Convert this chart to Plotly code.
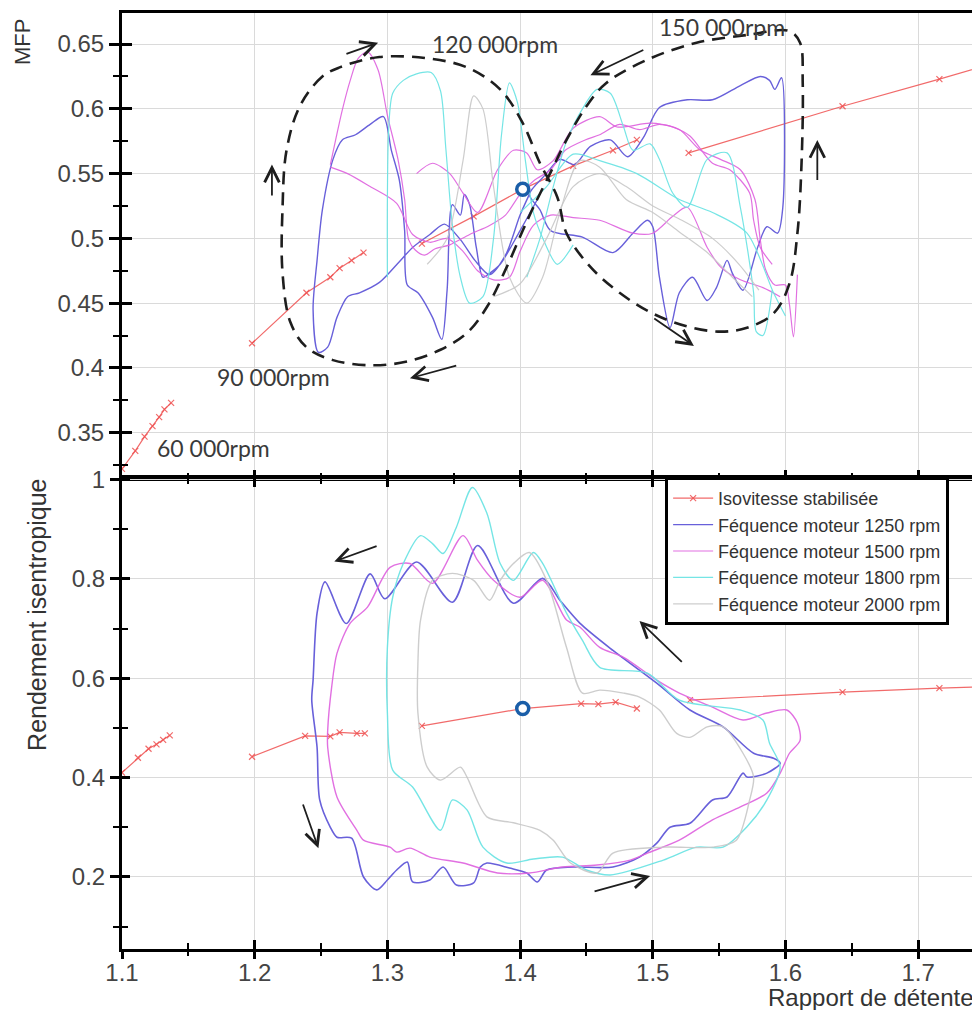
import plotly.graph_objects as go

# ---------------- axis ranges / ticks ----------------
x_range = [1.1, 1.7466]
mfp_range = [0.315, 0.674]
eff_range = [0.055, 1.003]

# ---------------- Isovitesse stabilisée (red) ----------------
iso_top_x = [1.100, 1.110, 1.117, 1.123, 1.128, 1.132, 1.137, None,
             1.198, 1.239, 1.257, 1.264, 1.273, 1.282, None,
             1.326, 1.365, 1.402, 1.440, 1.470, 1.488, None,
             1.527, 1.643, 1.716, 1.760]
iso_top_y = [0.322, 0.336, 0.347, 0.355, 0.362, 0.368, 0.373, None,
             0.419, 0.458, 0.470, 0.477, 0.483, 0.489, None,
             0.496, 0.517, 0.538, 0.556, 0.568, 0.576, None,
             0.566, 0.602, 0.623, 0.636]
iso_bot_x = [1.100, 1.112, 1.120, 1.126, 1.131, 1.136, None,
             1.198, 1.238, 1.257, 1.264, 1.277, 1.283, None,
             1.326, 1.402, 1.446, 1.459, 1.472, 1.488, None,
             1.528, 1.643, 1.716, 1.760]
iso_bot_y = [0.410, 0.440, 0.458, 0.467, 0.476, 0.485, None,
             0.442, 0.484, 0.483, 0.491, 0.489, 0.489, None,
             0.504, 0.539, 0.549, 0.548, 0.552, 0.539, None,
             0.556, 0.572, 0.580, 0.584]
point_x = [1.402]
point_top_y = [0.538]
point_bot_y = [0.539]

# ---------------- MFP (top) : 1250 rpm ----------------
b1250_top_a_x = [1.413, 1.400, 1.385, 1.377, 1.372, 1.367, 1.362, 1.358, 1.355, 1.349, 1.345, 1.341,
                 1.334, 1.323, 1.315, 1.313, 1.309, 1.303, 1.297, 1.287, 1.276, 1.266, 1.259, 1.251,
                 1.247, 1.244, 1.248, 1.255, 1.262, 1.270, 1.279, 1.294, 1.309, 1.319, 1.332, 1.343,
                 1.355, 1.366, 1.377, 1.389, 1.400, 1.407]
b1250_top_a_y = [0.530, 0.506, 0.480, 0.473, 0.470, 0.493, 0.526, 0.534, 0.518, 0.526, 0.460, 0.422,
                 0.439, 0.458, 0.464, 0.506, 0.545, 0.568, 0.594, 0.588, 0.580, 0.576, 0.561, 0.522,
                 0.483, 0.445, 0.412, 0.416, 0.439, 0.455, 0.458, 0.466, 0.482, 0.493, 0.503, 0.511,
                 0.499, 0.483, 0.472, 0.487, 0.518, 0.534]
b1250_top_b_x = [1.407, 1.419, 1.430, 1.441, 1.453, 1.468, 1.481, 1.493, 1.505, 1.526, 1.545, 1.566,
                 1.581, 1.588, 1.592, 1.597, 1.598, 1.594, 1.586, 1.579, 1.568, 1.560, 1.556, 1.548,
                 1.541, 1.530, 1.520, 1.513, 1.505, 1.500, 1.496, 1.485, 1.470, 1.447, 1.423, 1.415,
                 1.407]
b1250_top_b_y = [0.534, 0.549, 0.561, 0.557, 0.571, 0.576, 0.563, 0.578, 0.601, 0.607, 0.607, 0.618,
                 0.625, 0.622, 0.615, 0.624, 0.524, 0.504, 0.509, 0.493, 0.460, 0.473, 0.483, 0.462,
                 0.452, 0.470, 0.458, 0.431, 0.470, 0.509, 0.514, 0.504, 0.489, 0.501, 0.506, 0.522,
                 0.534]

# ---------------- MFP (top) : 1500 rpm ----------------
m1500_top_a_x = [1.257, 1.261, 1.266, 1.272, 1.278, 1.285, 1.293, 1.300, 1.308, 1.313, 1.316, 1.321,
                 1.328, 1.336, 1.347, 1.362, 1.377, 1.389, 1.400, 1.411, 1.423, 1.434, 1.449, 1.460,
                 1.475, 1.490, 1.505, 1.520, 1.536, 1.551, 1.566, 1.577, 1.581, 1.585, 1.592, 1.600,
                 1.603, 1.606, 1.609]
m1500_top_a_y = [0.557, 0.576, 0.599, 0.622, 0.639, 0.644, 0.630, 0.595, 0.561, 0.530, 0.499, 0.491,
                 0.487, 0.492, 0.495, 0.503, 0.510, 0.518, 0.534, 0.545, 0.553, 0.568, 0.576, 0.580,
                 0.588, 0.584, 0.588, 0.584, 0.568, 0.561, 0.553, 0.530, 0.499, 0.476, 0.464, 0.464,
                 0.449, 0.424, 0.472]
m1500_top_b_x = [1.257, 1.270, 1.287, 1.307, 1.319, 1.332, 1.345, 1.357, 1.368, 1.380, 1.392, 1.400,
                 1.410, 1.423, 1.440, 1.460, 1.485, 1.500, 1.515, 1.526, 1.541, 1.551, 1.566, 1.583,
                 1.596]
m1500_top_b_y = [0.555, 0.550, 0.540, 0.527, 0.503, 0.497, 0.500, 0.490, 0.475, 0.468, 0.470, 0.490,
                 0.510, 0.518, 0.516, 0.514, 0.504, 0.504, 0.517, 0.524, 0.493, 0.478, 0.468, 0.462,
                 0.455]
m1500_top_c_x = [1.322, 1.334, 1.347, 1.357, 1.368, 1.383, 1.395, 1.405, 1.413, 1.425, 1.440, 1.460,
                 1.473, 1.498, 1.515, 1.528, 1.545, 1.558, 1.573, 1.576, 1.581, 1.590]
m1500_top_c_y = [0.550, 0.558, 0.550, 0.535, 0.520, 0.553, 0.568, 0.566, 0.553, 0.560, 0.585, 0.594,
                 0.586, 0.589, 0.586, 0.579, 0.558, 0.553, 0.535, 0.514, 0.493, 0.480]

# ---------------- MFP (top) : 1800 rpm ----------------
c1800_top_a_x = [1.300, 1.300, 1.301, 1.304, 1.312, 1.322, 1.333, 1.340, 1.344, 1.349, 1.355, 1.362,
                 1.372, 1.380, 1.386, 1.392, 1.398, 1.404, 1.410, 1.418, 1.428, 1.440]
c1800_top_a_y = [0.470, 0.530, 0.585, 0.612, 0.622, 0.627, 0.628, 0.614, 0.570, 0.510, 0.470, 0.450,
                 0.455, 0.500, 0.580, 0.620, 0.605, 0.560, 0.520, 0.498, 0.480, 0.495]
c1800_top_b_x = [1.405, 1.415, 1.425, 1.435, 1.447, 1.458, 1.468, 1.478, 1.485, 1.498, 1.505, 1.515,
                 1.526, 1.541, 1.556, 1.566, 1.576, 1.578, 1.583, 1.590]
c1800_top_b_y = [0.470, 0.500, 0.540, 0.575, 0.600, 0.615, 0.612, 0.586, 0.568, 0.573, 0.561, 0.535,
                 0.524, 0.561, 0.566, 0.524, 0.458, 0.428, 0.425, 0.460]
c1800_top_c_x = [1.400, 1.420, 1.440, 1.460, 1.488, 1.520, 1.545, 1.571, 1.591, 1.600]
c1800_top_c_y = [0.520, 0.540, 0.565, 0.560, 0.550, 0.530, 0.520, 0.504, 0.458, 0.440]

# ---------------- MFP (top) : 2000 rpm ----------------
g2000_top_a_x = [1.330, 1.345, 1.357, 1.365, 1.372, 1.380, 1.392, 1.405, 1.417, 1.430, 1.445, 1.460,
                 1.480, 1.500, 1.520, 1.540, 1.560, 1.575]
g2000_top_a_y = [0.480, 0.500, 0.560, 0.610, 0.600, 0.540, 0.470, 0.450, 0.470, 0.520, 0.560, 0.555,
                 0.530, 0.520, 0.505, 0.490, 0.470, 0.455]
g2000_top_b_x = [1.380, 1.400, 1.420, 1.440, 1.460, 1.480, 1.500, 1.520, 1.545, 1.565, 1.580]
g2000_top_b_y = [0.455, 0.465, 0.500, 0.540, 0.550, 0.540, 0.525, 0.515, 0.500, 0.480, 0.460]

# ---------------- Rendement (bottom) ----------------
b1250_bot_x = [1.417, 1.395, 1.368, 1.349, 1.322, 1.298, 1.287, 1.269, 1.253, 1.247, 1.244, 1.243,
               1.247, 1.249, 1.257, 1.262, 1.273, 1.282, 1.292, 1.300, 1.307, 1.315, 1.319, 1.332,
               1.342, 1.352, 1.365, 1.370, 1.375, 1.392, 1.405, 1.413, 1.420, 1.440, 1.470, 1.490,
               1.503, 1.513, 1.528, 1.545, 1.556, 1.568, 1.571, 1.586, 1.596, 1.591, 1.576, 1.553,
               1.528, 1.503, 1.470, 1.445, 1.430, 1.417]
b1250_bot_y = [0.801, 0.751, 0.867, 0.753, 0.834, 0.760, 0.810, 0.710, 0.794, 0.731, 0.596, 0.556,
               0.461, 0.355, 0.300, 0.280, 0.278, 0.200, 0.174, 0.194, 0.214, 0.230, 0.190, 0.194,
               0.220, 0.184, 0.188, 0.220, 0.228, 0.218, 0.208, 0.190, 0.214, 0.220, 0.220, 0.240,
               0.268, 0.300, 0.308, 0.355, 0.361, 0.409, 0.401, 0.409, 0.429, 0.439, 0.449, 0.502,
               0.536, 0.590, 0.656, 0.711, 0.757, 0.801]
m1500_bot_x = [1.357, 1.334, 1.317, 1.302, 1.285, 1.272, 1.262, 1.258, 1.255, 1.255, 1.262, 1.277,
               1.282, 1.302, 1.307, 1.317, 1.332, 1.357, 1.383, 1.407, 1.432, 1.458, 1.483, 1.496,
               1.520, 1.545, 1.566, 1.586, 1.596, 1.603, 1.611, 1.609, 1.601, 1.586, 1.568, 1.545,
               1.520, 1.503, 1.478, 1.460, 1.445, 1.435, 1.417, 1.400, 1.380, 1.368, 1.357]
m1500_bot_y = [0.887, 0.791, 0.831, 0.823, 0.743, 0.711, 0.650, 0.582, 0.495, 0.461, 0.361, 0.294,
               0.274, 0.260, 0.250, 0.258, 0.240, 0.228, 0.208, 0.208, 0.220, 0.224, 0.234, 0.248,
               0.274, 0.315, 0.341, 0.369, 0.409, 0.449, 0.475, 0.510, 0.536, 0.530, 0.516, 0.542,
               0.570, 0.596, 0.642, 0.662, 0.703, 0.717, 0.797, 0.763, 0.797, 0.837, 0.887]
c1800_bot_x = [1.410, 1.395, 1.385, 1.375, 1.364, 1.352, 1.342, 1.334, 1.325, 1.312, 1.304, 1.300,
               1.300, 1.304, 1.319, 1.340, 1.349, 1.360, 1.372, 1.390, 1.410, 1.432, 1.450, 1.468,
               1.508, 1.533, 1.553, 1.571, 1.586, 1.596, 1.588, 1.583, 1.566, 1.520, 1.496, 1.460,
               1.447, 1.435, 1.417, 1.410]
c1800_bot_y = [0.853, 0.797, 0.831, 0.932, 0.984, 0.904, 0.851, 0.871, 0.887, 0.831, 0.763, 0.662,
               0.530, 0.415, 0.381, 0.294, 0.355, 0.335, 0.260, 0.228, 0.236, 0.240, 0.214, 0.204,
               0.234, 0.260, 0.260, 0.301, 0.355, 0.421, 0.469, 0.516, 0.536, 0.556, 0.610, 0.622,
               0.676, 0.731, 0.831, 0.853]
g2000_bot_x = [1.407, 1.395, 1.385, 1.377, 1.365, 1.349, 1.334, 1.325, 1.323, 1.323, 1.330, 1.340,
               1.355, 1.360, 1.375, 1.395, 1.415, 1.425, 1.438, 1.458, 1.470, 1.508, 1.545, 1.563,
               1.573, 1.576, 1.568, 1.553, 1.541, 1.528, 1.518, 1.505, 1.490, 1.478, 1.460, 1.447,
               1.435, 1.420, 1.407]
g2000_bot_y = [0.853, 0.831, 0.797, 0.757, 0.797, 0.811, 0.797, 0.717, 0.630, 0.530, 0.421, 0.395,
               0.421, 0.401, 0.321, 0.309, 0.294, 0.274, 0.228, 0.208, 0.248, 0.260, 0.260, 0.274,
               0.355, 0.401, 0.449, 0.502, 0.502, 0.481, 0.489, 0.536, 0.562, 0.570, 0.576, 0.570,
               0.662, 0.797, 0.853]

# ---------------- hand-drawn operating loop (dashed) ----------------
loop_x = [1.264, 1.251, 1.234, 1.224, 1.221, 1.221, 1.227, 1.239, 1.259, 1.289, 1.315, 1.340,
          1.360, 1.375, 1.390, 1.402, 1.410, 1.423, 1.435, 1.450, 1.465, 1.496, 1.533, 1.571,
          1.603, 1.611, 1.613, 1.612, 1.609, 1.603, 1.591, 1.571, 1.551, 1.526, 1.500, 1.475,
          1.453, 1.435, 1.428, 1.415, 1.402, 1.385, 1.360, 1.330, 1.294, 1.264]
loop_y = [0.632, 0.625, 0.602, 0.568, 0.524, 0.473, 0.435, 0.416, 0.406, 0.402, 0.405, 0.414,
          0.427, 0.447, 0.478, 0.506, 0.524, 0.551, 0.576, 0.602, 0.620, 0.638, 0.651, 0.657,
          0.660, 0.651, 0.620, 0.555, 0.504, 0.465, 0.442, 0.431, 0.428, 0.432, 0.442, 0.458,
          0.478, 0.504, 0.532, 0.558, 0.589, 0.615, 0.632, 0.639, 0.640, 0.632]

# arrows: (tail_x, tail_y, head_x, head_y)
arrows_top = [(1.268, 0.642, 1.293, 0.651), (1.213, 0.532, 1.213, 0.557),
              (1.353, 0.402, 1.317, 0.392), (1.494, 0.646, 1.453, 0.626),
              (1.624, 0.544, 1.624, 0.576), (1.500, 0.439, 1.531, 0.417)]
arrows_bot = [(1.293, 0.867, 1.260, 0.835), (1.236, 0.349, 1.248, 0.258),
              (1.455, 0.170, 1.498, 0.202), (1.523, 0.630, 1.490, 0.715)]

rpm_labels = ["60 000rpm", "90 000rpm", "120 000rpm", "150 000rpm"]
rpm_label_x = [1.125, 1.170, 1.332, 1.503]
rpm_label_y = [0.338, 0.393, 0.650, 0.663]

series_names = ["Isovitesse stabilisée", "Féquence moteur 1250 rpm", "Féquence moteur 1500 rpm",
                "Féquence moteur 1800 rpm", "Féquence moteur 2000 rpm"]

# ---------------- styles ----------------
RED = "rgba(238,80,80,0.85)"
BLUE = "rgb(104,96,218)"
MAG = "rgba(222,96,222,0.9)"
CYAN = "rgba(110,228,228,0.95)"
GRAY = "rgba(200,200,200,0.9)"
FONT = "Liberation Sans, Arial, sans-serif"

fig = go.Figure()

def line(x, y, color, width, xa, ya, name=None, legend=False, spline=True):
    fig.add_trace(go.Scatter(
        x=x, y=y, mode="lines", xaxis=xa, yaxis=ya,
        line=dict(color=color, width=width, shape="spline" if spline else "linear", smoothing=0.8),
        name=name, showlegend=legend, hoverinfo="skip"))

# red iso-speed lines
fig.add_trace(go.Scatter(x=iso_top_x, y=iso_top_y, mode="lines+markers", xaxis="x", yaxis="y",
                         line=dict(color=RED, width=1.2),
                         marker=dict(symbol="x-thin", size=6, line=dict(color=RED, width=1.2)),
                         name=series_names[0], showlegend=True, connectgaps=False))
fig.add_trace(go.Scatter(x=iso_bot_x, y=iso_bot_y, mode="lines+markers", xaxis="x2", yaxis="y2",
                         line=dict(color=RED, width=1.2),
                         marker=dict(symbol="x-thin", size=6, line=dict(color=RED, width=1.2)),
                         name=series_names[0], showlegend=False, connectgaps=False))

# 1250
line(b1250_top_a_x, b1250_top_a_y, BLUE, 1.4, "x", "y", series_names[1], True)
line(b1250_top_b_x, b1250_top_b_y, BLUE, 1.4, "x", "y")
line(b1250_bot_x, b1250_bot_y, BLUE, 1.6, "x2", "y2")
# 1500
line(m1500_top_a_x, m1500_top_a_y, MAG, 1.2, "x", "y", series_names[2], True)
line(m1500_top_b_x, m1500_top_b_y, MAG, 1.2, "x", "y")
line(m1500_top_c_x, m1500_top_c_y, MAG, 1.2, "x", "y")
line(m1500_bot_x, m1500_bot_y, MAG, 1.4, "x2", "y2")
# 1800
line(c1800_top_a_x, c1800_top_a_y, CYAN, 1.2, "x", "y", series_names[3], True)
line(c1800_top_b_x, c1800_top_b_y, CYAN, 1.2, "x", "y")
line(c1800_top_c_x, c1800_top_c_y, CYAN, 1.2, "x", "y")
line(c1800_bot_x, c1800_bot_y, CYAN, 1.4, "x2", "y2")
# 2000
line(g2000_top_a_x, g2000_top_a_y, GRAY, 1.2, "x", "y", series_names[4], True)
line(g2000_top_b_x, g2000_top_b_y, GRAY, 1.2, "x", "y")
line(g2000_bot_x, g2000_bot_y, GRAY, 1.4, "x2", "y2")

# dashed loop
fig.add_trace(go.Scatter(x=loop_x, y=loop_y, mode="lines", xaxis="x", yaxis="y",
                         line=dict(color="#1e1e1e", width=2.6, dash="13px,8px", shape="spline", smoothing=1.0),
                         showlegend=False, hoverinfo="skip"))

# operating point circles (white centre, blue ring)
CIRC = "#1a5ea8"
for xa, ya, py in (("x", "y", point_top_y), ("x2", "y2", point_bot_y)):
    fig.add_trace(go.Scatter(x=point_x, y=py, mode="markers", xaxis=xa, yaxis=ya,
                             marker=dict(symbol="circle", size=12, color="white",
                                         line=dict(color=CIRC, width=3.5)),
                             showlegend=False, hoverinfo="skip"))

# dummy traces for overlay tick axes
for xa, ya in (("x", "y3"), ("x2", "y4"), ("x3", "y2")):
    fig.add_trace(go.Scatter(x=[None], y=[None], xaxis=xa, yaxis=ya, showlegend=False, hoverinfo="skip"))

annotations = []
for (tx, ty, hx, hy) in arrows_top:
    annotations.append(dict(x=hx, y=hy, ax=tx, ay=ty, xref="x", yref="y", axref="x", ayref="y",
                            text="", showarrow=True, arrowhead=5, arrowsize=1.6, arrowwidth=1.8,
                            arrowcolor="#1e1e1e"))
for (tx, ty, hx, hy) in arrows_bot:
    annotations.append(dict(x=hx, y=hy, ax=tx, ay=ty, xref="x2", yref="y2", axref="x2", ayref="y2",
                            text="", showarrow=True, arrowhead=5, arrowsize=1.6, arrowwidth=1.8,
                            arrowcolor="#1e1e1e"))
for t, lx, ly in zip(rpm_labels, rpm_label_x, rpm_label_y):
    annotations.append(dict(x=lx, y=ly, xref="x", yref="y", text=t, showarrow=False,
                            xanchor="left", yanchor="middle",
                            font=dict(family="Lato, sans-serif", size=23, color="#3a3a3a")))
annotations.append(dict(x=0.7506, y=-0.0513, xref="paper", yref="paper", text="Rapport de détente",
                        showarrow=False, xanchor="left", yanchor="middle",
                        font=dict(family=FONT, size=24, color="#333")))
annotations.append(dict(x=-0.1166, y=0.969, xref="paper", yref="paper", text="MFP", textangle=-90,
                        showarrow=False, xanchor="center", yanchor="middle",
                        font=dict(family=FONT, size=22, color="#333")))
annotations.append(dict(x=-0.099, y=0.357, xref="paper", yref="paper", text="Rendement isentropique",
                        textangle=-90, showarrow=False, xanchor="center", yanchor="middle",
                        font=dict(family=FONT, size=25, color="#333")))

TICKFONT = dict(family=FONT, size=24, color="#444")
GRID = "#dadada"
split = 471 / 936

# the page body has an 8px margin: figure is shifted by 8px, so margins compensate
fig.update_layout(
    width=972, height=1002,
    margin=dict(l=114, r=0, t=5, b=61, autoexpand=False),
    paper_bgcolor="white", plot_bgcolor="white",
    annotations=annotations,
    legend=dict(x=0.633, y=0.5043, xanchor="left", yanchor="top", bgcolor="white",
                bordercolor="black", borderwidth=3, font=dict(family=FONT, size=18, color="#333"),
                itemwidth=40, tracegroupgap=0),
    xaxis=dict(domain=[0, 1], anchor="y", range=x_range, dtick=0.1, tick0=1.1,
               showticklabels=False, ticks="inside", ticklen=8, tickwidth=2.5, tickcolor="black",
               minor=dict(dtick=0.05, ticks="inside", ticklen=5, tickwidth=2, tickcolor="black"),
               showline=True, linewidth=3, linecolor="black", mirror=True,
               showgrid=True, gridcolor=GRID, gridwidth=1, zeroline=False),
    yaxis=dict(domain=[split, 1], anchor="x", range=mfp_range, dtick=0.05, tick0=0,
               ticks="outside", ticklen=10, tickwidth=2.5, tickcolor="black", tickfont=TICKFONT,
               minor=dict(dtick=0.025, ticks="outside", ticklen=6, tickwidth=2, tickcolor="black"),
               showline=True, linewidth=3, linecolor="black",
               showgrid=True, gridcolor=GRID, gridwidth=1, zeroline=False),
    yaxis3=dict(overlaying="y", anchor="x", side="left", range=mfp_range, dtick=0.05, tick0=0,
                ticks="inside", ticklen=10, tickwidth=2.5, tickcolor="black", showticklabels=False,
                minor=dict(dtick=0.025, ticks="inside", ticklen=6, tickwidth=2, tickcolor="black"),
                showline=False, showgrid=False, zeroline=False),
    xaxis2=dict(domain=[0, 1], anchor="y2", range=x_range, dtick=0.1, tick0=1.1,
                ticks="inside", ticklen=9, tickwidth=2.5, tickcolor="black", tickfont=TICKFONT,
                minor=dict(dtick=0.05, ticks="inside", ticklen=6, tickwidth=2, tickcolor="black"),
                showline=True, linewidth=3, linecolor="black", mirror="ticks",
                showgrid=True, gridcolor=GRID, gridwidth=1, zeroline=False, ticklabelstandoff=0),
    xaxis3=dict(overlaying="x2", anchor="y2", side="bottom", range=x_range, dtick=0.1, tick0=1.1,
                ticks="outside", ticklen=9, tickwidth=2.5, tickcolor="black", showticklabels=False,
                minor=dict(dtick=0.05, ticks="outside", ticklen=6, tickwidth=2, tickcolor="black"),
                showline=False, showgrid=False, zeroline=False),
    yaxis2=dict(domain=[0, split], anchor="x2", range=eff_range, dtick=0.2, tick0=0,
                ticks="outside", ticklen=9, tickwidth=2.5, tickcolor="black", tickfont=TICKFONT,
                minor=dict(dtick=0.1, ticks="outside", ticklen=6, tickwidth=2, tickcolor="black"),
                showline=True, linewidth=3, linecolor="black",
                showgrid=True, gridcolor=GRID, gridwidth=1, zeroline=False),
    yaxis4=dict(overlaying="y2", anchor="x2", side="left", range=eff_range, dtick=0.2, tick0=0,
                ticks="inside", ticklen=8, tickwidth=2.5, tickcolor="black", showticklabels=False,
                minor=dict(dtick=0.1, ticks="inside", ticklen=6, tickwidth=2, tickcolor="black"),
                showline=False, showgrid=False, zeroline=False),
)

fig.write_html("out.html")
